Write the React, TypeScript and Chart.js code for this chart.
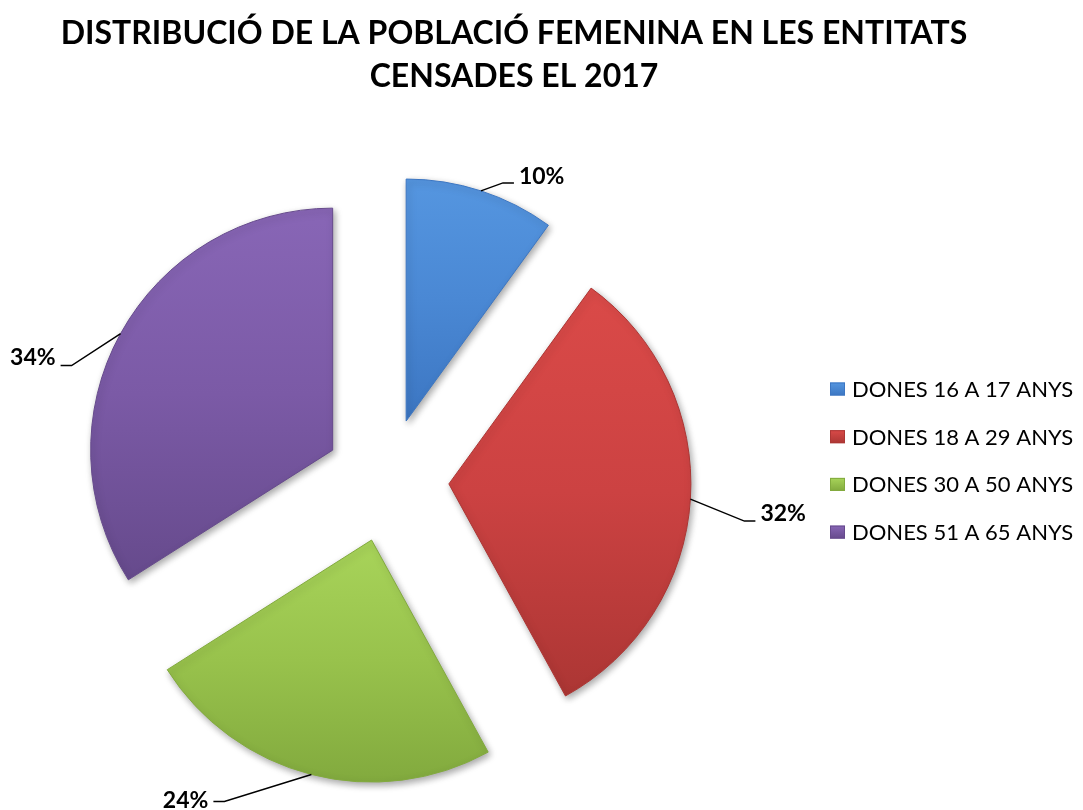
import React, { useEffect, useRef } from 'react';
import { Chart, registerables } from 'chart.js';

Chart.register(...registerables);

// ---- data ----
const TITLE_LINES = ['DISTRIBUCIÓ DE LA POBLACIÓ FEMENINA EN LES ENTITATS', 'CENSADES EL 2017'];
const CATEGORIES = ['DONES 16 A 17 ANYS', 'DONES 18 A 29 ANYS', 'DONES 30 A 50 ANYS', 'DONES 51 A 65 ANYS'];
const VALUES = [10, 32, 24, 34];

// ---- style ----
const BASE_COLORS = ['#4a88d4', '#cc4242', '#98c24c', '#7b5aa6'];
const LIGHT_COLORS = ['#5596e0', '#da4a48', '#a8d45a', '#8866b6'];
const DARK_COLORS = ['#3c76c2', '#ac3634', '#82aa3e', '#664a8c'];
const FONT = 'Lato, "Open Sans", "DejaVu Sans", sans-serif';
const PIE_RADIUS = 242;
const EXPLODE = 62;
const TITLE_X = 514;
const TITLE_BASELINES = [44, 87];
const TITLE_SIZE = 32;
const LEGEND_BOX_X = 830;
const LEGEND_TEXT_X = 852;
const LEGEND_FIRST_Y = 389;
const LEGEND_STEP = 47.7;
const LEGEND_SIZE = 22;
const LABEL_SIZE = 23;
// leader line elbow relative to the slice edge point, and text vertical shift
const LABEL_ELBOW: [number, number][] = [[22, -8], [54, 22], [-87, 27], [-49, 32]];
const LABEL_TEXT_DY = [-6, -8, -1, -8];
const LEADER_TAIL = 11;
const LEADER_GAP = 5;

const TOTAL = VALUES.reduce((a, b) => a + b, 0);

function sliceAngles(i: number) {
  let start = -Math.PI / 2;
  for (let k = 0; k < i; k++) start += (VALUES[k] / TOTAL) * Math.PI * 2;
  const end = start + (VALUES[i] / TOTAL) * Math.PI * 2;
  return { start, end, mid: (start + end) / 2 };
}

function sectorGradient(context: any) {
  const i = context.dataIndex ?? 0;
  const chart = context.chart;
  const area = chart.chartArea;
  if (!area) return BASE_COLORS[i];
  const { start, end, mid } = sliceAngles(i);
  const cx = (area.left + area.right) / 2 + Math.cos(mid) * EXPLODE;
  const cy = (area.top + area.bottom) / 2 + Math.sin(mid) * EXPLODE;
  const ys = [cy, cy + Math.sin(start) * PIE_RADIUS, cy + Math.sin(end) * PIE_RADIUS];
  const within = (a: number) => {
    let x = a;
    while (x < start) x += Math.PI * 2;
    return x <= end;
  };
  if (within(-Math.PI / 2)) ys.push(cy - PIE_RADIUS);
  if (within(Math.PI / 2)) ys.push(cy + PIE_RADIUS);
  const top = Math.min(...ys);
  const bottom = Math.max(...ys);
  const g = chart.ctx.createLinearGradient(cx, top, cx, bottom);
  g.addColorStop(0, LIGHT_COLORS[i]);
  g.addColorStop(0.5, BASE_COLORS[i]);
  g.addColorStop(1, DARK_COLORS[i]);
  return g;
}

const decorPlugin = {
  id: 'decor',
  afterDatasetsUpdate(chart: any) {
    const meta = chart.getDatasetMeta(0);
    meta.data.forEach((arc: any) => {
      const mid = (arc.startAngle + arc.endAngle) / 2;
      arc.x += Math.cos(mid) * EXPLODE;
      arc.y += Math.sin(mid) * EXPLODE;
    });
  },
  beforeDatasetsDraw(chart: any) {
    const ctx = chart.ctx;
    ctx.save();
    ctx.shadowColor = 'rgba(0,0,0,0.35)';
    ctx.shadowBlur = 7;
    ctx.shadowOffsetX = 2;
    ctx.shadowOffsetY = 3;
  },
  afterDatasetsDraw(chart: any) {
    const ctx = chart.ctx;
    ctx.restore();
    const meta = chart.getDatasetMeta(0);
    ctx.save();
    ctx.strokeStyle = '#000';
    ctx.lineWidth = 1.5;
    ctx.fillStyle = '#000';
    ctx.font = `bold ${LABEL_SIZE}px ${FONT}`;
    ctx.textBaseline = 'middle';
    meta.data.forEach((arc: any, i: number) => {
      const mid = (arc.startAngle + arc.endAngle) / 2;
      const ex = arc.x + Math.cos(mid) * arc.outerRadius;
      const ey = arc.y + Math.sin(mid) * arc.outerRadius;
      const [dx, dy] = LABEL_ELBOW[i];
      const bx = ex + dx;
      const by = ey + dy;
      const side = dx >= 0 ? 1 : -1;
      const tx = bx + side * LEADER_TAIL;
      ctx.beginPath();
      ctx.moveTo(ex, ey);
      ctx.lineTo(bx, by);
      ctx.lineTo(tx, by);
      ctx.stroke();
      const pct = Math.round((VALUES[i] / TOTAL) * 100) + '%';
      ctx.textAlign = side > 0 ? 'left' : 'right';
      ctx.fillText(pct, tx + side * LEADER_GAP, by + LABEL_TEXT_DY[i]);
    });
    ctx.restore();
  },
  afterDraw(chart: any) {
    const ctx = chart.ctx;
    ctx.save();
    // title
    ctx.fillStyle = '#000';
    ctx.font = `bold ${TITLE_SIZE}px ${FONT}`;
    ctx.textAlign = 'center';
    ctx.textBaseline = 'alphabetic';
    TITLE_LINES.forEach((line, k) => ctx.fillText(line, TITLE_X, TITLE_BASELINES[k]));
    // legend
    ctx.font = `${LEGEND_SIZE}px ${FONT}`;
    ctx.textAlign = 'left';
    ctx.textBaseline = 'middle';
    CATEGORIES.forEach((name, i) => {
      const y = LEGEND_FIRST_Y + i * LEGEND_STEP;
      const g = ctx.createLinearGradient(0, y - 6.5, 0, y + 6.5);
      g.addColorStop(0, LIGHT_COLORS[i]);
      g.addColorStop(1, DARK_COLORS[i]);
      ctx.fillStyle = g;
      ctx.fillRect(LEGEND_BOX_X, y - 6.5, 15, 13);
      ctx.strokeStyle = DARK_COLORS[i];
      ctx.lineWidth = 1;
      ctx.strokeRect(LEGEND_BOX_X + 0.5, y - 6, 14, 12);
      ctx.fillStyle = '#000';
      ctx.fillText(name, LEGEND_TEXT_X, y + 1);
    });
    ctx.restore();
  },
};

export default function App() {
  const canvasRef = useRef<HTMLCanvasElement | null>(null);

  useEffect(() => {
    let chart: Chart | null = null;
    let cancelled = false;
    const make = () => {
      if (cancelled || !canvasRef.current) return;
      chart = new Chart(canvasRef.current, {
        type: 'pie',
        data: {
          labels: CATEGORIES,
          datasets: [
            {
              data: VALUES,
              backgroundColor: sectorGradient as any,
              borderColor: DARK_COLORS,
              borderWidth: 1,
              clip: false as any,
            },
          ],
        },
        options: {
          animation: false,
          responsive: true,
          maintainAspectRatio: false,
          radius: PIE_RADIUS,
          layout: { padding: { left: 0, right: 309, top: 150, bottom: 0 } },
          plugins: {
            legend: { display: false },
            title: { display: false },
            tooltip: { enabled: false },
          },
        } as any,
        plugins: [decorPlugin],
      });
    };
    const fontsReady = (document as any).fonts
      ? Promise.all([
          (document as any).fonts.load(`bold ${TITLE_SIZE}px Lato`),
          (document as any).fonts.load(`${LEGEND_SIZE}px Lato`),
        ])
      : Promise.resolve();
    fontsReady.then(make, make);
    return () => {
      cancelled = true;
      if (chart) chart.destroy();
    };
  }, []);

  return (
    <div style={{ position: 'absolute', left: 0, top: 0, width: 1083, height: 810, background: '#fff' }}>
      <canvas ref={canvasRef} />
    </div>
  );
}
